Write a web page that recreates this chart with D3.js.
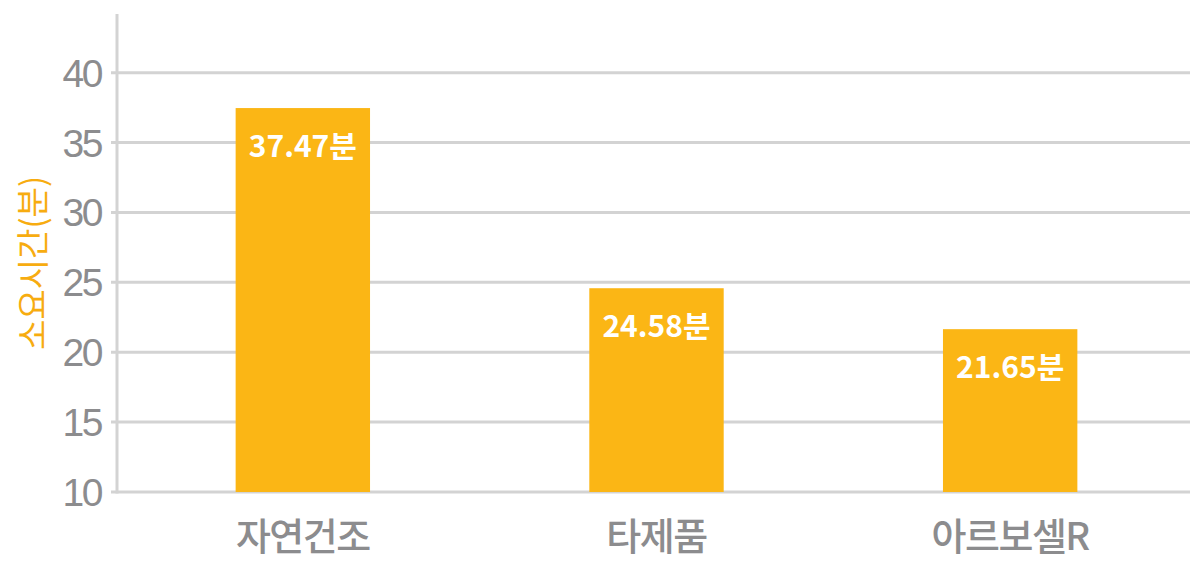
<!DOCTYPE html>
<html>
<head>
<meta charset="utf-8">
<script src="https://cdn.jsdelivr.net/npm/d3@7"></script>
<style>
  body { margin: 0; background: #fff; }
  svg { display: block; }
</style>
</head>
<body>
<svg></svg>
<script>
const width = 1200;
const height = 580;

const categories = ['자연건조', '타제품', '아르보셀R'];
const values = [37.47, 24.58, 21.65];
const yTicks = [10, 15, 20, 25, 30, 35, 40];
const yTitle = '소요시간(분)';

const barColor = '#fbb615';
const gridColor = '#d3d3d3';
const textGray = '#8c8c8e';

const svg = d3.select('svg').attr('width', width).attr('height', height);

const x = d3.scaleBand()
    .domain(categories)
    .range([126, 1187])
    .paddingInner(0.62)
    .paddingOuter(0.31);

const y = d3.scaleLinear()
    .domain([10, 44.2])
    .range([492, 14]);

// grid lines + tick marks
svg.append('g')
    .selectAll('line')
    .data(yTicks)
    .join('line')
    .attr('x1', 111)
    .attr('x2', 1190)
    .attr('y1', d => y(d))
    .attr('y2', d => y(d))
    .attr('stroke', gridColor)
    .attr('stroke-width', 3);

// vertical axis line
svg.append('line')
    .attr('x1', 117)
    .attr('x2', 117)
    .attr('y1', y(44.2))
    .attr('y2', y(10) + 1.5)
    .attr('stroke', gridColor)
    .attr('stroke-width', 3);

// tick labels
svg.append('g')
    .selectAll('text')
    .data(yTicks)
    .join('text')
    .attr('x', 101)
    .attr('y', d => y(d) + 14)
    .attr('text-anchor', 'end')
    .attr('font-family', 'Liberation Sans, Arial, sans-serif')
    .attr('font-size', 39)
    .attr('letter-spacing', -2.5)
    .attr('fill', textGray)
    .text(d => d);

// y title
svg.append('text')
    .attr('transform', 'translate(45,263) rotate(-90)')
    .attr('text-anchor', 'middle')
    .attr('font-family', 'Noto Sans CJK KR, sans-serif')
    .attr('font-size', 33)
    .attr('fill', '#f7ac10')
    .text(yTitle);

// bars
svg.append('g')
    .selectAll('rect')
    .data(values)
    .join('rect')
    .attr('x', (d, i) => x(categories[i]))
    .attr('width', x.bandwidth())
    .attr('y', d => y(d))
    .attr('height', d => y(10) - y(d))
    .attr('fill', barColor);

// value labels
svg.append('g')
    .selectAll('text')
    .data(values)
    .join('text')
    .attr('x', (d, i) => x(categories[i]) + x.bandwidth() / 2)
    .attr('y', d => y(d) + 49)
    .attr('text-anchor', 'middle')
    .attr('font-family', 'Noto Sans CJK KR, sans-serif')
    .attr('font-weight', 'bold')
    .attr('font-size', 30)
    .attr('fill', '#fff')
    .text(d => d.toFixed(2) + '분');

// category labels
svg.append('g')
    .selectAll('text')
    .data(categories)
    .join('text')
    .attr('x', d => x(d) + x.bandwidth() / 2)
    .attr('y', 550)
    .attr('text-anchor', 'middle')
    .attr('font-family', 'Noto Sans CJK KR, sans-serif')
    .attr('font-weight', 500)
    .attr('font-size', 38)
    .attr('letter-spacing', -1.5)
    .attr('fill', textGray)
    .text(d => d);
</script>
</body>
</html>
